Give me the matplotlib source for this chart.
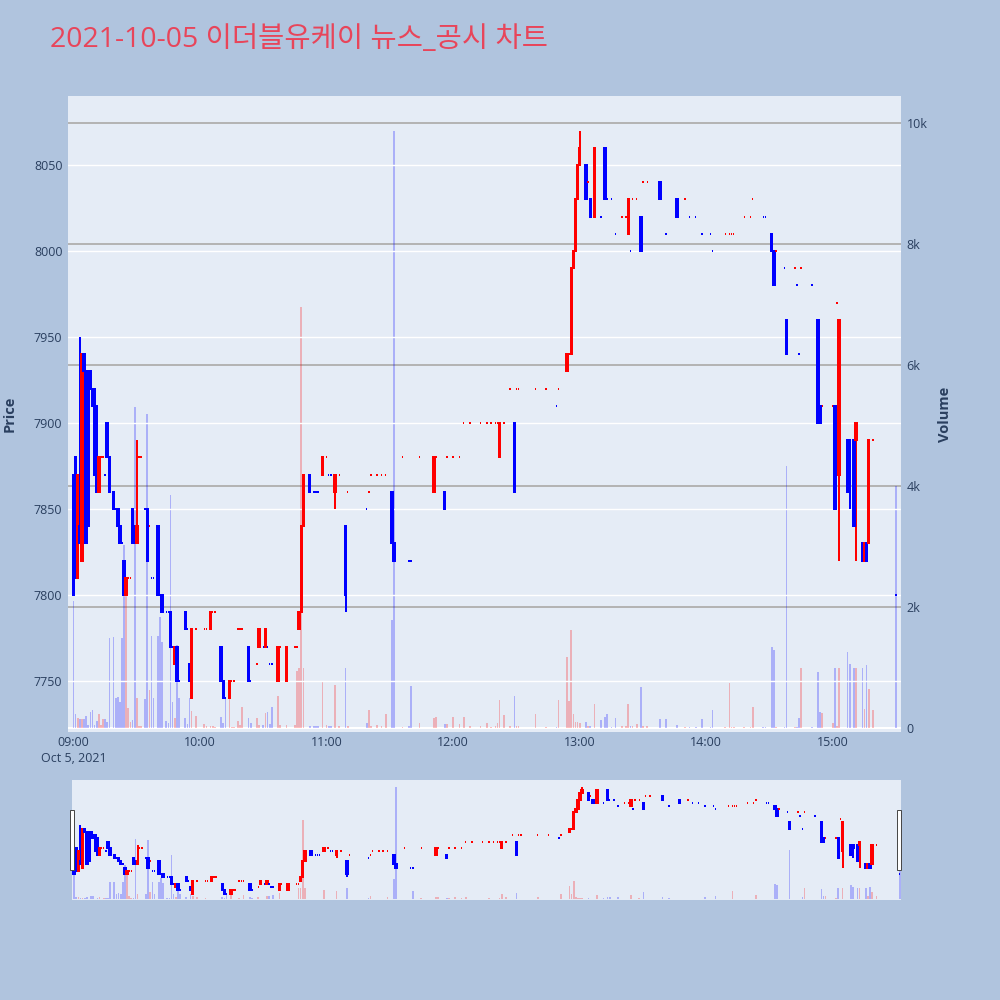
import matplotlib
matplotlib.use("Agg")
import matplotlib.pyplot as plt
from matplotlib.patches import Rectangle
import numpy as np

plt.rcParams['font.family'] = ['Open Sans', 'Noto Sans CJK KR', 'DejaVu Sans']

# minute candles, 2021-10-05
times = ['09:00', '09:01', '09:02', '09:03', '09:04', '09:05', '09:06', '09:07', '09:08', '09:09',
         '09:10', '09:11', '09:12', '09:13', '09:14', '09:15', '09:16', '09:17', '09:19', '09:20',
         '09:21', '09:22', '09:23', '09:24', '09:25', '09:26', '09:27', '09:28', '09:29', '09:30',
         '09:31', '09:32', '09:34', '09:35', '09:36', '09:37', '09:38', '09:40', '09:41', '09:42',
         '09:44', '09:45', '09:46', '09:47', '09:48', '09:49', '09:50', '09:53', '09:54', '09:55',
         '09:56', '09:58', '10:02', '10:03', '10:05', '10:06', '10:07', '10:10', '10:11', '10:12',
         '10:14', '10:15', '10:16', '10:18', '10:19', '10:20', '10:23', '10:24', '10:27', '10:28',
         '10:30', '10:31', '10:32', '10:33', '10:34', '10:37', '10:38', '10:41', '10:45', '10:46',
         '10:47', '10:48', '10:49', '10:52', '10:54', '10:55', '10:56', '10:58', '11:00', '11:01',
         '11:02', '11:04', '11:06', '11:09', '11:10', '11:19', '11:20', '11:21', '11:24', '11:26',
         '11:28', '11:31', '11:32', '11:36', '11:39', '11:40', '11:44', '11:51', '11:52', '11:56',
         '11:57', '12:00', '12:03', '12:05', '12:08', '12:13', '12:16', '12:18', '12:20', '12:21',
         '12:22', '12:24', '12:27', '12:29', '12:30', '12:31', '12:39', '12:44', '12:49', '12:50',
         '12:54', '12:55', '12:56', '12:57', '12:58', '12:59', '13:00', '13:03', '13:04', '13:05',
         '13:07', '13:10', '13:12', '13:13', '13:15', '13:17', '13:20', '13:22', '13:23', '13:24',
         '13:25', '13:27', '13:29', '13:30', '13:32', '13:38', '13:41', '13:46', '13:50', '13:52',
         '13:55', '13:58', '14:02', '14:03', '14:09', '14:11', '14:12', '14:13', '14:18', '14:21',
         '14:22', '14:27', '14:28', '14:31', '14:32', '14:33', '14:37', '14:38', '14:42', '14:43',
         '14:44', '14:45', '14:50', '14:53', '14:54', '14:55', '15:00', '15:01', '15:02', '15:03',
         '15:07', '15:08', '15:10', '15:11', '15:14', '15:15', '15:16', '15:17', '15:19', '15:30']

opens = [7870, 7880, 7810, 7840, 7820, 7940, 7930, 7930, 7930, 7920,
         7920, 7910, 7860, 7880, 7880, 7870, 7900, 7880, 7860, 7850,
         7850, 7840, 7830, 7820, 7800, 7810, 7810, 7850, 7840, 7830,
         7880, 7880, 7850, 7850, 7840, 7810, 7810, 7840, 7800, 7800,
         7790, 7790, 7790, 7770, 7760, 7770, 7750, 7790, 7780, 7760,
         7740, 7780, 7780, 7780, 7780, 7790, 7790, 7770, 7750, 7740,
         7740, 7750, 7750, 7780, 7780, 7780, 7770, 7750, 7760, 7770,
         7770, 7770, 7770, 7760, 7760, 7750, 7770, 7750, 7770, 7770,
         7780, 7790, 7840, 7870, 7860, 7860, 7860, 7870, 7880, 7870,
         7870, 7860, 7870, 7840, 7860, 7850, 7860, 7870, 7870, 7870,
         7870, 7860, 7830, 7880, 7820, 7820, 7880, 7860, 7880, 7860,
         7880, 7880, 7880, 7900, 7900, 7900, 7900, 7900, 7900, 7900,
         7880, 7900, 7920, 7900, 7920, 7920, 7920, 7920, 7910, 7920,
         7930, 7940, 7940, 7990, 8000, 8030, 8050, 8050, 8040, 8030,
         8020, 8020, 8060, 8030, 8030, 8010, 8020, 8020, 8010, 8000,
         8030, 8030, 8020, 8040, 8040, 8040, 8010, 8030, 8030, 8020,
         8020, 8010, 8010, 8000, 8010, 8010, 8010, 8010, 8020, 8020,
         8030, 8020, 8020, 8010, 8000, 8000, 7990, 7960, 7990, 7980,
         7940, 7990, 7980, 7960, 7910, 7910, 7910, 7910, 7970, 7870,
         7890, 7890, 7890, 7890, 7830, 7820, 7830, 7830, 7890, 7800]

highs = [7870, 7880, 7870, 7950, 7940, 7940, 7930, 7930, 7930, 7920,
         7920, 7910, 7880, 7880, 7880, 7870, 7900, 7880, 7860, 7850,
         7850, 7840, 7830, 7820, 7810, 7810, 7810, 7850, 7840, 7890,
         7880, 7880, 7850, 7850, 7840, 7810, 7810, 7840, 7800, 7800,
         7790, 7790, 7790, 7770, 7770, 7770, 7750, 7790, 7780, 7760,
         7780, 7780, 7780, 7780, 7790, 7790, 7790, 7770, 7750, 7740,
         7750, 7750, 7750, 7780, 7780, 7780, 7770, 7750, 7760, 7780,
         7770, 7780, 7770, 7760, 7760, 7770, 7770, 7770, 7770, 7770,
         7790, 7840, 7870, 7870, 7860, 7860, 7860, 7880, 7880, 7870,
         7870, 7870, 7870, 7840, 7860, 7850, 7860, 7870, 7870, 7870,
         7870, 7860, 7830, 7880, 7820, 7820, 7880, 7880, 7880, 7860,
         7880, 7880, 7880, 7900, 7900, 7900, 7900, 7900, 7900, 7900,
         7900, 7900, 7920, 7900, 7920, 7920, 7920, 7920, 7910, 7920,
         7940, 7940, 7990, 8000, 8030, 8050, 8070, 8050, 8040, 8030,
         8060, 8020, 8060, 8030, 8030, 8010, 8020, 8020, 8030, 8000,
         8030, 8030, 8020, 8040, 8040, 8040, 8010, 8030, 8030, 8020,
         8020, 8010, 8010, 8000, 8010, 8010, 8010, 8010, 8020, 8020,
         8030, 8020, 8020, 8010, 8000, 8000, 7990, 7960, 7990, 7980,
         7940, 7990, 7980, 7960, 7910, 7910, 7910, 7910, 7970, 7960,
         7890, 7890, 7890, 7900, 7830, 7830, 7830, 7890, 7890, 7800]

lows = [7800, 7810, 7810, 7830, 7820, 7930, 7830, 7840, 7920, 7910,
        7870, 7860, 7860, 7880, 7880, 7870, 7880, 7860, 7850, 7850,
        7840, 7830, 7830, 7800, 7800, 7810, 7810, 7830, 7830, 7830,
        7880, 7880, 7850, 7820, 7840, 7810, 7810, 7800, 7800, 7790,
        7790, 7790, 7770, 7770, 7760, 7750, 7750, 7780, 7780, 7750,
        7740, 7780, 7780, 7780, 7780, 7790, 7790, 7750, 7740, 7740,
        7740, 7750, 7750, 7780, 7780, 7780, 7750, 7750, 7760, 7770,
        7770, 7770, 7770, 7760, 7760, 7750, 7770, 7750, 7770, 7770,
        7780, 7790, 7840, 7860, 7860, 7860, 7860, 7870, 7880, 7870,
        7870, 7850, 7870, 7790, 7860, 7850, 7860, 7870, 7870, 7870,
        7870, 7830, 7820, 7880, 7820, 7820, 7880, 7860, 7880, 7850,
        7880, 7880, 7880, 7900, 7900, 7900, 7900, 7900, 7900, 7900,
        7880, 7900, 7920, 7860, 7920, 7920, 7920, 7920, 7910, 7920,
        7930, 7940, 7940, 7990, 8000, 8030, 8050, 8030, 8040, 8020,
        8020, 8020, 8030, 8030, 8030, 8010, 8020, 8020, 8010, 8000,
        8030, 8030, 8000, 8040, 8040, 8030, 8010, 8020, 8030, 8020,
        8020, 8010, 8010, 8000, 8010, 8010, 8010, 8010, 8020, 8020,
        8030, 8020, 8020, 8000, 7980, 8000, 7990, 7940, 7990, 7980,
        7940, 7990, 7980, 7900, 7900, 7910, 7910, 7850, 7970, 7820,
        7860, 7850, 7840, 7820, 7820, 7820, 7820, 7830, 7890, 7800]

closes = [7800, 7810, 7870, 7830, 7940, 7930, 7830, 7840, 7920, 7910,
          7870, 7860, 7880, 7880, 7880, 7870, 7880, 7860, 7850, 7850,
          7840, 7830, 7830, 7800, 7810, 7810, 7810, 7830, 7830, 7840,
          7880, 7880, 7850, 7820, 7840, 7810, 7810, 7800, 7800, 7790,
          7790, 7790, 7770, 7770, 7770, 7750, 7750, 7780, 7780, 7750,
          7780, 7780, 7780, 7780, 7790, 7790, 7790, 7750, 7740, 7740,
          7750, 7750, 7750, 7780, 7780, 7780, 7750, 7750, 7760, 7780,
          7770, 7780, 7770, 7760, 7760, 7770, 7770, 7770, 7770, 7770,
          7790, 7840, 7870, 7860, 7860, 7860, 7860, 7880, 7880, 7870,
          7870, 7870, 7870, 7800, 7860, 7850, 7860, 7870, 7870, 7870,
          7870, 7830, 7820, 7880, 7820, 7820, 7880, 7880, 7880, 7850,
          7880, 7880, 7880, 7900, 7900, 7900, 7900, 7900, 7900, 7900,
          7900, 7900, 7920, 7860, 7920, 7920, 7920, 7920, 7910, 7920,
          7940, 7940, 7990, 8000, 8030, 8050, 8060, 8030, 8040, 8020,
          8060, 8020, 8030, 8030, 8030, 8010, 8020, 8020, 8030, 8000,
          8030, 8030, 8000, 8040, 8040, 8030, 8010, 8020, 8030, 8020,
          8020, 8010, 8010, 8000, 8010, 8010, 8010, 8010, 8020, 8020,
          8030, 8020, 8020, 8000, 7980, 8000, 7990, 7940, 7990, 7980,
          7940, 7990, 7980, 7900, 7900, 7910, 7910, 7850, 7970, 7960,
          7860, 7880, 7840, 7900, 7820, 7830, 7820, 7890, 7890, 7800]

volumes = [2100, 230, 160, 150, 150, 150, 200, 55, 270, 290,
           50, 116, 226, 50, 149, 149, 100, 1480, 1510, 500,
           520, 435, 1490, 3020, 2500, 325, 105, 130, 5300, 502,
           30, 33, 480, 5185, 628, 1526, 491, 1526, 1840, 1416,
           116, 77, 3856, 424, 171, 1372, 502, 171, 61, 502,
           281, 204, 66, 30, 40, 33, 20, 187, 77, 474,
           501, 20, 20, 116, 50, 353, 171, 77, 160, 50,
           50, 243, 270, 61, 353, 529, 50, 50, 50, 947,
           1000, 6960, 1000, 30, 30, 33, 33, 782, 50, 30,
           30, 710, 30, 986, 40, 88, 298, 30, 50, 30,
           231, 1785, 9870, 22, 30, 694, 77, 160, 187, 66,
           66, 176, 66, 187, 30, 30, 88, 22, 30, 88,
           460, 207, 30, 531, 30, 32, 226, 10, 10, 466,
           1166, 440, 1620, 226, 100, 100, 78, 97, 30, 32,
           401, 129, 181, 226, 10, 162, 30, 30, 401, 30,
           30, 67, 672, 30, 30, 157, 145, 48, 20, 10,
           10, 157, 20, 297, 20, 745, 20, 20, 20, 20,
           339, 20, 20, 1345, 1284, 20, 20, 4330, 20, 20,
           165, 986, 20, 930, 270, 242, 88, 986, 30, 986,
           1262, 1052, 997, 997, 986, 308, 1041, 639, 297, 4000]

x_ticks = ['09:00', '10:00', '11:00', '12:00', '13:00', '14:00', '15:00']
price_ticks = [7750, 7800, 7850, 7900, 7950, 8000, 8050]
vol_ticks = [0, 2000, 4000, 6000, 8000, 10000]
vol_labels = ['0', '2k', '4k', '6k', '8k', '10k']

title = '2021-10-05 이더블유케이 뉴스_공시 차트'

def to_min(t):
    return int(t[:2]) * 60 + int(t[3:]) - 9 * 60

x = np.array([to_min(t) for t in times])
o = np.array(opens)
c = np.array(closes)

# direction like plotly: equal open/close -> compare with previous close
cols = []
prev_c = None
prev_d = -1
for oo, cc in zip(opens, closes):
    if cc > oo:
        d = 1
    elif cc < oo:
        d = -1
    elif prev_c is not None and cc != prev_c:
        d = 1 if cc > prev_c else -1
    else:
        d = prev_d
    cols.append('#ff0000' if d > 0 else '#0000ff')
    prev_c, prev_d = cc, d

BG = '#e5ecf6'
TXT = '#2a3f5f'
LW = 1.44  # ~2px

fig = plt.figure(figsize=(10, 10), dpi=100, facecolor='#b0c4de')


def draw(ax_v, ax_p):
    ax_v.bar(x, volumes, width=0.8, color=cols, alpha=0.25, linewidth=0, zorder=2)
    ax_p.vlines(x, lows, highs, colors=cols, linewidth=LW, zorder=3)
    ax_p.bar(x, np.abs(c - o), bottom=np.minimum(o, c), width=0.7,
             color=cols, edgecolor=cols, linewidth=LW, zorder=4)


def setup(ax_v, ax_p, xlim):
    ax_v.set_facecolor(BG)
    ax_p.patch.set_alpha(0)
    for a in (ax_v, ax_p):
        for s in a.spines.values():
            s.set_visible(False)
        a.set_xlim(*xlim)
    ax_v.set_ylim(-66, 10446)
    ax_p.set_ylim(7720.3, 8090.1)


# main chart
ax_v = fig.add_axes([0.068, 0.268, 0.833, 0.636])
ax_p = fig.add_axes([0.068, 0.268, 0.833, 0.636])
setup(ax_v, ax_p, (-2.6, 392.3))
draw(ax_v, ax_p)

for v in vol_ticks[1:]:
    ax_v.axhline(v, color='#b4b4b4', linewidth=LW, zorder=1)
ax_v.axhline(0, color='white', linewidth=LW, zorder=1)
ax_v.yaxis.tick_right()
ax_v.set_yticks(vol_ticks)
ax_v.set_yticklabels(vol_labels)
ax_v.tick_params(axis='y', length=0, pad=4, labelsize=9, labelcolor=TXT)
ax_v.set_xticks([])

ax_p.grid(axis='y', color='white', linewidth=1, zorder=0)
ax_p.set_yticks(price_ticks)
ax_p.set_yticklabels([str(p) for p in price_ticks])
ax_p.tick_params(axis='y', length=0, pad=4, labelsize=9, labelcolor=TXT)
ax_p.set_xticks([to_min(t) for t in x_ticks])
xl = list(x_ticks)
xl[0] = '09:00\nOct 5, 2021'
ax_p.set_xticklabels(xl, linespacing=1.3)
ax_p.tick_params(axis='x', length=0, pad=3, labelsize=9, labelcolor=TXT)

# range slider
s_v = fig.add_axes([0.072, 0.100, 0.829, 0.120])
s_p = fig.add_axes([0.072, 0.100, 0.829, 0.120])
setup(s_v, s_p, (-1.0, 390.6))
draw(s_v, s_p)
for a in (s_v, s_p):
    a.set_xticks([])
    a.set_yticks([])

for hx in (0.0695, 0.8965):
    fig.patches.append(Rectangle((hx, 0.130), 0.004, 0.060, transform=fig.transFigure,
                                 facecolor='white', edgecolor='#444444', linewidth=0.7))

fig.text(0.05, 0.96, title, fontsize=20.5, color='#e8455a', va='center', ha='left')
fig.text(0.010, 0.586, 'Price', rotation=90, fontsize=10.5, fontweight='bold',
         color=TXT, va='center', ha='center')
fig.text(0.945, 0.586, 'Volume', rotation=90, fontsize=10.5, fontweight='bold',
         color=TXT, va='center', ha='center')

fig.savefig('out.png', dpi=100, facecolor=fig.get_facecolor())
